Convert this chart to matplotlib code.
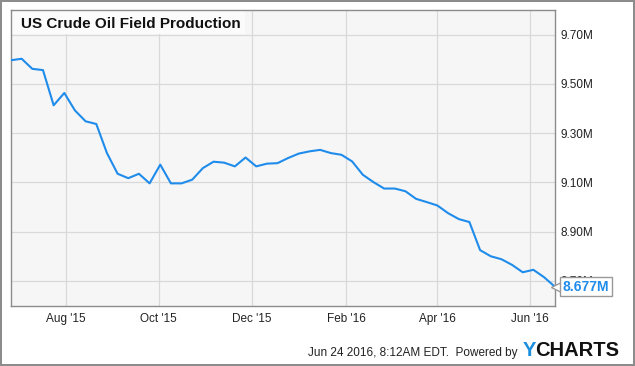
import matplotlib
matplotlib.use("Agg")
import matplotlib.pyplot as plt
import matplotlib.dates as mdates
import matplotlib.transforms as mtransforms
from matplotlib.patches import Rectangle
import pandas as pd

plt.rcParams['font.family'] = ['Liberation Sans', 'DejaVu Sans']

# weekly field production, millions of barrels/day
dates = pd.date_range("2015-06-26", periods=52, freq="7D")
production = [9.596, 9.602, 9.561, 9.556, 9.413, 9.463, 9.392, 9.348, 9.337, 9.219,
              9.135, 9.117, 9.135, 9.096, 9.172, 9.096, 9.096, 9.111, 9.158, 9.184,
              9.180, 9.165, 9.201, 9.165, 9.176, 9.178, 9.199, 9.217, 9.226, 9.232,
              9.219, 9.212, 9.185, 9.131, 9.101, 9.075, 9.075, 9.064, 9.033, 9.020,
              9.006, 8.975, 8.951, 8.939, 8.825, 8.800, 8.788, 8.765, 8.735, 8.745,
              8.715, 8.677]
yticks = [8.70, 8.90, 9.10, 9.30, 9.50, 9.70]
title = "US Crude Oil Field Production"
footer = "Jun 24 2016, 8:12AM EDT.  Powered by"
last_label = "8.677M"

blue = "#1f8ceb"

fig = plt.figure(figsize=(6.35, 3.66), dpi=100, facecolor="white",
                 edgecolor="#8c8c8c", linewidth=1.5)
ax = fig.add_axes([11/635, 1-306/366, 543.7/635, 296/366])
ax.set_facecolor("#f6f6f6")

ax.plot(dates, production, color=blue, lw=1.5, zorder=3)

ax.set_xlim(dates[0], dates[-1])
ax.set_ylim(8.598, 9.80)
ax.set_yticks(yticks)
ax.set_yticklabels(["%.2fM" % v for v in yticks])
ax.yaxis.tick_right()
ax.xaxis.set_major_locator(mdates.MonthLocator(bymonth=[2, 4, 6, 8, 10, 12]))
ax.xaxis.set_major_formatter(mdates.DateFormatter("%b '%y"))
ax.tick_params(axis="both", length=0, labelsize=8.5, colors="#222222")
ax.tick_params(axis="x", pad=5)
ax.tick_params(axis="y", pad=4)
ax.grid(True, color="#d9d9d9", lw=0.9)
ax.set_axisbelow(True)
for s in ax.spines.values():
    s.set_color("#8c8c8c")
    s.set_linewidth(1.0)

# title inside the plot with a light box
ax.add_patch(Rectangle((0, 1-24/296), 234/543.7, 24/296, transform=ax.transAxes,
                       fc="#fbfbfb", ec="none", zorder=2.5))
ax.text(10/543.7, 1-13.5/296, title, transform=ax.transAxes, fontsize=11,
        fontweight="bold", color="#111111", va="center", ha="left", zorder=4)

# last value flag
off = mtransforms.offset_copy(ax.transData, fig=fig, x=1.5, y=0, units="dots")
ax.plot([dates[-1]], [production[-1]], marker="<", ms=7, mfc="white",
        mec="#999999", mew=1, transform=off, clip_on=False, zorder=5)
off2 = mtransforms.offset_copy(ax.transData, fig=fig, x=8, y=0, units="dots")
ax.text(dates[-1], production[-1], last_label, transform=off2, fontsize=10,
        fontweight="bold", color=blue, va="center", ha="left", clip_on=False,
        bbox=dict(boxstyle="square,pad=0.2", fc="white", ec="#999999", lw=1),
        zorder=6)

fig.text(518/635, 1-353/366, footer, fontsize=8.5, color="#222222",
         ha="right", va="center")
logo_y = fig.text(523/635, 1-350/366, "Y", fontsize=14.5, fontweight="bold",
                  color="#1a8fe0", ha="left", va="center")
fig.add_artist(plt.Annotation("CHARTS", xy=(1, 0.5), xycoords=logo_y,
                              xytext=(-1, 0), textcoords="offset points",
                              fontsize=14.5, fontweight="bold", color="#111111",
                              ha="left", va="center"))

fig.savefig("out.png", dpi=100)
